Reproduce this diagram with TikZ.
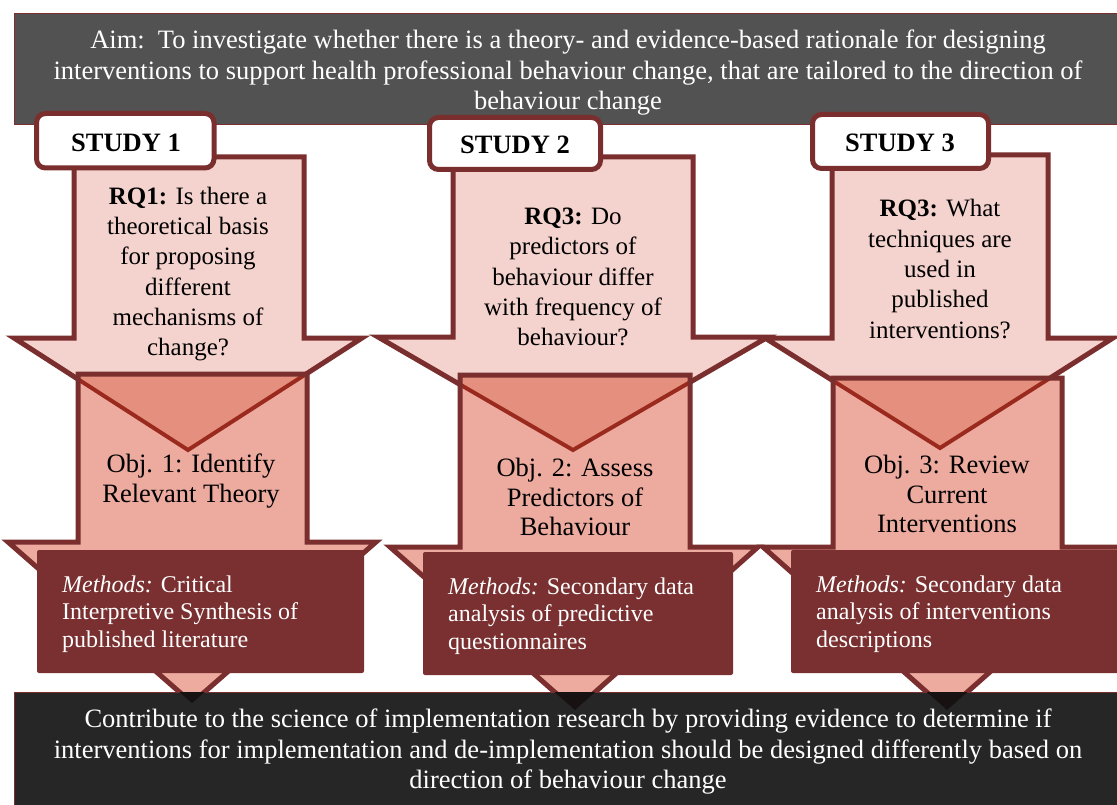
\documentclass[tikz,border=0pt]{standalone}
\usepackage{fontspec}
\setmainfont{Liberation Serif}
\definecolor{dred}{HTML}{7A2E2E}
\definecolor{vred}{HTML}{9B2A1E}
\definecolor{pinkA}{HTML}{F4D3CE}
\definecolor{pinkB}{HTML}{EDABA0}
\definecolor{pinkV}{HTML}{E5907F}
\definecolor{methfill}{HTML}{7A3030}
\definecolor{topgray}{HTML}{525252}
\definecolor{botgray}{HTML}{262626}
\definecolor{tipdark}{HTML}{171111}
\tikzset{
  uparrow/.style={fill=pinkA, draw=dred, line width=5pt, line join=miter},
  lowfill/.style={fill=pinkB},
  lowline/.style={draw=dred, line width=5pt, line join=miter},
  tabbox/.style={fill=white, draw=dred, line width=5pt, rounded corners=9pt},
  methbox/.style={fill=methfill, rounded corners=2pt},
  bigtxt/.style={font=\fontsize{26.5}{30.5}\selectfont, text=white, align=center, inner sep=0pt},
  rqtxt/.style={font=\fontsize{25}{30.3}\selectfont, align=center, inner sep=0pt},
  objtxt/.style={font=\fontsize{26.5}{29.5}\selectfont, align=center, inner sep=0pt},
  methtxt/.style={font=\fontsize{24}{27.5}\selectfont, text=white, align=left, inner sep=0pt, anchor=west},
  tabtxt/.style={font=\fontsize{26.5}{30}\selectfont\bfseries, inner sep=0pt}
}
\begin{document}
\begin{tikzpicture}[x=1pt,y=-1pt]
\useasboundingbox (0,0) rectangle (1117,805);
\fill[white] (0,0) rectangle (1117,805);

% top aim box
\draw[fill=topgray, draw=dred, line width=1pt] (14,14) rectangle (1125,125);

% upper arrows
\draw[uparrow] (74,157) -- (304,157) -- (304,338) -- (362,338) -- (188,450) -- (14,338) -- (74,338) -- cycle;
\draw[uparrow] (453,157) -- (693,157) -- (693,337) -- (768,337) -- (573,450) -- (378,337) -- (453,337) -- cycle;
\draw[uparrow] (832,155) -- (1048,155) -- (1048,338) -- (1113,338) -- (940,448) -- (765,338) -- (832,338) -- cycle;

% lower arrows: fill
\fill[lowfill] (78,374) -- (307,374) -- (307,542) -- (376,542) -- (192,703) -- (8,542) -- (78,542) -- cycle;
\fill[lowfill] (460,375) -- (690,375) -- (690,547) -- (758,547) -- (575,710) -- (390,547) -- (460,547) -- cycle;
\fill[lowfill] (833,378) -- (1062,378) -- (1062,547) -- (1131,547) -- (947,710) -- (763,547) -- (833,547) -- cycle;

% overlap of upper arrow heads
\begin{scope}
\clip (78,374) rectangle (307,542);
\fill[pinkV] (362,338) -- (188,450) -- (14,338) -- cycle;
\draw[vred, line width=4pt] (362,338) -- (188,450) -- (14,338);
\end{scope}
\begin{scope}
\clip (460,375) rectangle (690,547);
\fill[pinkV] (768,337) -- (573,450) -- (378,337) -- cycle;
\draw[vred, line width=4pt] (768,337) -- (573,450) -- (378,337);
\end{scope}
\begin{scope}
\clip (833,378) rectangle (1062,547);
\fill[pinkV] (1113,338) -- (940,448) -- (765,338) -- cycle;
\draw[vred, line width=4pt] (1113,338) -- (940,448) -- (765,338);
\end{scope}

% lower arrows: outline
\draw[lowline] (78,374) -- (307,374) -- (307,542) -- (376,542) -- (192,703) -- (8,542) -- (78,542) -- cycle;
\draw[lowline] (460,375) -- (690,375) -- (690,547) -- (758,547) -- (575,710) -- (390,547) -- (460,547) -- cycle;
\draw[lowline] (833,378) -- (1062,378) -- (1062,547) -- (1131,547) -- (947,710) -- (763,547) -- (833,547) -- cycle;

% methods boxes
\fill[methbox] (37,550) rectangle (364,673);
\fill[methbox] (423,552) rectangle (733,675);
\fill[methbox] (791,550) rectangle (1125,673);

% bottom box
\draw[fill=botgray, draw=dred, line width=1pt] (14,692) rectangle (1125,812);
\begin{scope}
\clip (14.5,692.5) rectangle (1117,805);
\fill[tipdark] (376,542) -- (192,703) -- (8,542) -- cycle;
\fill[tipdark] (758,547) -- (575,710) -- (390,547) -- cycle;
\fill[tipdark] (1131,547) -- (947,710) -- (763,547) -- cycle;
\end{scope}

% study tabs
\draw[tabbox] (36.5,113.5) rectangle (214,168);
\draw[tabbox] (429.5,117.5) rectangle (600.5,169.5);
\draw[tabbox] (812.5,114.5) rectangle (988.5,168.5);
\node[tabtxt] (s1) at (126,143) {STUDY 1};
\node[tabtxt] (s2) at (515,145) {STUDY 2};
\node[tabtxt] (s3) at (900,143) {STUDY 3};

% texts
\node[bigtxt] (aim) at (568,73) {Aim:\ \ To investigate whether there is a theory- and evidence-based rationale for designing\\interventions to support health professional behaviour change, that are tailored to the direction of\\behaviour change};

\node[rqtxt] (rq1) at (188,274) {\textbf{RQ1:} Is there a\\theoretical basis\\for proposing\\different\\mechanisms of\\change?};
\node[rqtxt] (rq2) at (573,277) {\textbf{RQ3:} Do\\predictors of\\behaviour differ\\with frequency of\\behaviour?};
\node[rqtxt] (rq3) at (940,269) {\textbf{RQ3:} What\\techniques are\\used in\\published\\interventions?};

\node[objtxt] (o1) at (191,481) {Obj. 1: Identify\\Relevant Theory};
\node[objtxt] (o2) at (575,497) {Obj. 2: Assess\\Predictors of\\Behaviour};
\node[objtxt] (o3) at (947,494) {Obj. 3: Review\\Current\\Interventions};

\node[methtxt] (m1) at (62,614) {\textit{Methods:} Critical\\Interpretive Synthesis of\\published literature};
\node[methtxt] (m2) at (448,616) {\textit{Methods:} Secondary data\\analysis of predictive\\questionnaires};
\node[methtxt] (m3) at (816,614) {\textit{Methods:} Secondary data\\analysis of interventions\\descriptions};

\node[bigtxt] (goal) at (568,752) {Contribute to the science of implementation research by providing evidence to determine if\\interventions for implementation and de-implementation should be designed differently based on\\direction of behaviour change};
\end{tikzpicture}
\end{document}
